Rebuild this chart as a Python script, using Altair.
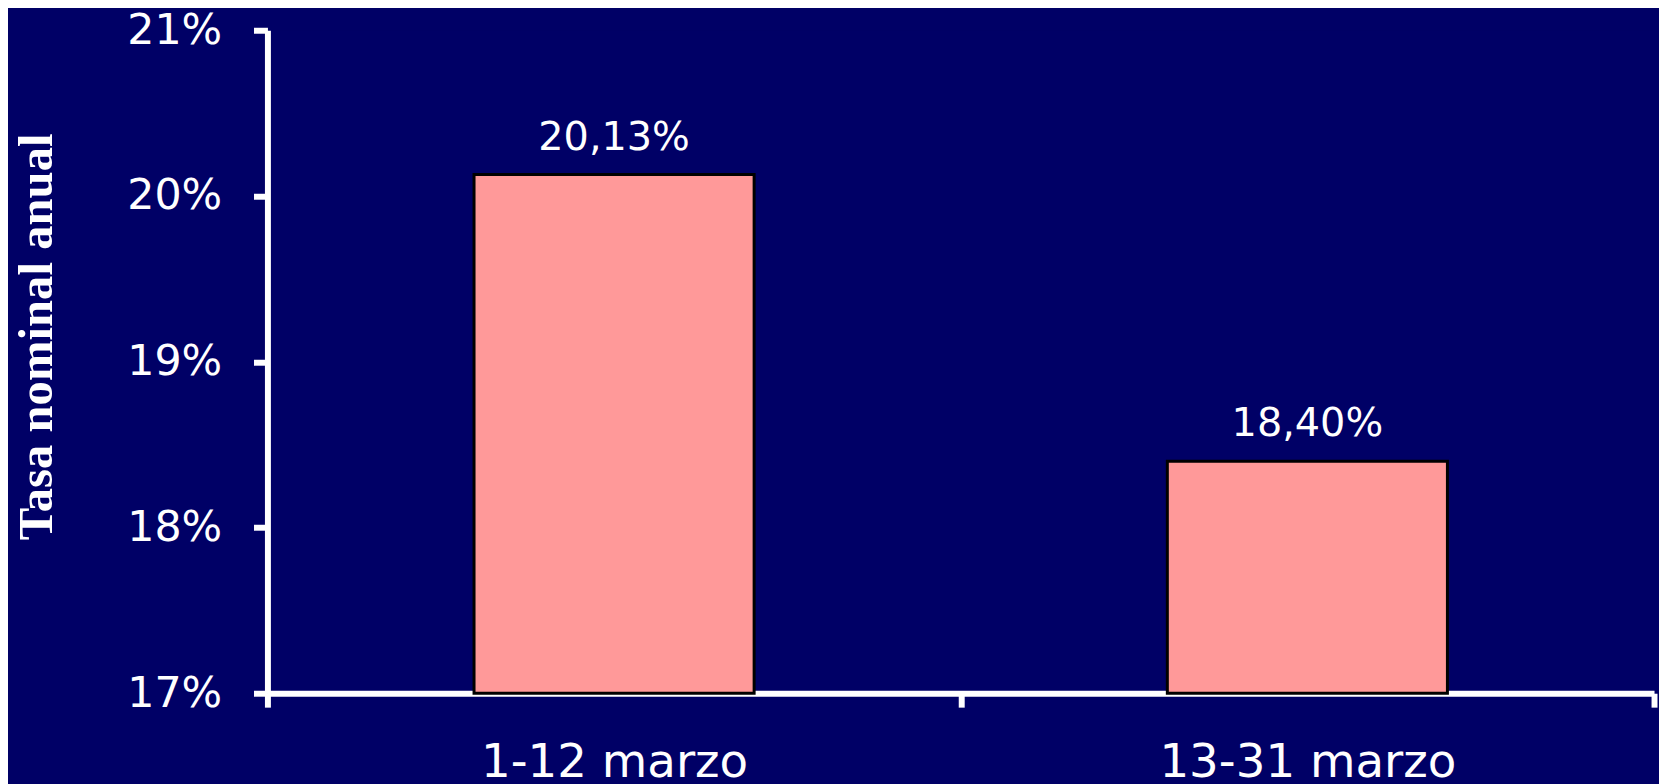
import altair as alt
import pandas as pd

categories = ["1-12 marzo", "13-31 marzo"]
values = [20.13, 18.40]
labels = ["20,13%", "18,40%"]
y_ticks = [17, 18, 19, 20, 21]
y_min, y_max = 17, 21

df = pd.DataFrame({"periodo": categories, "tasa": values, "etiqueta": labels})

BG = "#000066"
BAR = "#FF9999"

x_enc = alt.X(
    "periodo:N",
    sort=categories,
    scale=alt.Scale(paddingInner=0, paddingOuter=0),
    axis=alt.Axis(
        title=None,
        labelAngle=0,
        labelColor="white",
        labelFont="DejaVu Sans",
        labelFontSize=47,
        labelPadding=33,
        labelLimit=0,
        labelOverlap=False,
        domainColor="white",
        domainWidth=6,
        tickColor="white",
        tickWidth=6,
        tickSize=14,
        tickBand="extent",
        grid=False,
    ),
)

y_enc = alt.Y(
    "tasa:Q",
    scale=alt.Scale(domain=[y_min, y_max], zero=False, nice=False, clamp=True),
    axis=alt.Axis(
        title="Tasa nominal anual",
        values=y_ticks,
        labelExpr="datum.value + '%'",
        labelColor="white",
        labelFont="DejaVu Sans",
        labelFontSize=43,
        labelPadding=32,
        labelLimit=0,
        domainColor="white",
        domainWidth=6,
        tickColor="white",
        tickWidth=6,
        tickSize=14,
        grid=False,
        titleColor="white",
        titleFont="Liberation Serif",
        titleFontWeight="bold",
        titleFontSize=49,
        titleAngle=270,
        titleAlign="center",
        titleBaseline="alphabetic",
        titleX=-217,
        titleY=308,
    ),
)

bars = alt.Chart(df).mark_bar(
    color=BAR, stroke="black", strokeWidth=3, width=alt.RelativeBandSize(0.404)
).encode(x=x_enc, y=y_enc, y2=alt.Y2(datum=y_min))

text = alt.Chart(df).mark_text(
    color="white", font="DejaVu Sans", fontSize=40, baseline="alphabetic", dy=-25
).encode(x=alt.X("periodo:N", sort=categories), y=alt.Y("tasa:Q"), text="etiqueta:N")

chart = (
    alt.layer(bars, text)
    .properties(
        width=1395,
        height=667,
        background=BG,
        autosize=alt.AutoSizeParams(type="none"),
        padding={"left": 261, "top": 20, "right": 5, "bottom": 100},
    )
    .configure_view(stroke=None, fill=BG)
)

chart.save("out.html", embed_options={"renderer": "svg", "actions": False})
